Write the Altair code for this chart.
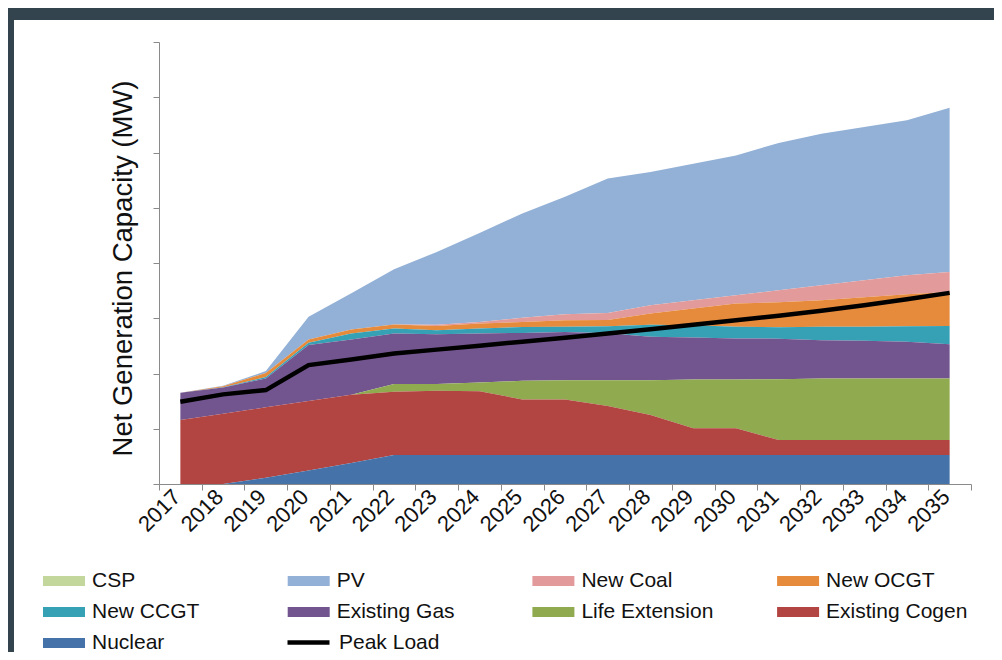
import altair as alt
import pandas as pd

# ---------------- data ----------------
years = [str(y) for y in range(2017, 2036)]

nuclear        = [0, 0, 114, 244, 380, 524, 524, 524, 524, 524, 524, 524, 524, 524, 524, 524, 524, 524, 524]
existing_cogen = [1157, 1271, 1273, 1257, 1235, 1145, 1163, 1157, 1007, 1007, 886, 723, 483, 483, 271, 271, 271, 271, 271]
life_extension = [0, 0, 0, 0, 0, 139, 121, 157, 336, 349, 470, 633, 886, 886, 1103, 1116, 1116, 1116, 1116]
existing_gas   = [494, 477, 524, 1013, 1002, 917, 904, 886, 868, 873, 850, 787, 759, 741, 732, 693, 680, 662, 620]
new_ccgt       = [0, 5, 24, 42, 108, 90, 72, 90, 108, 95, 125, 217, 222, 213, 208, 240, 257, 284, 331]
new_ocgt       = [0, 18, 72, 61, 72, 72, 78, 90, 90, 115, 115, 203, 302, 419, 452, 483, 533, 579, 615]
new_coal       = [0, 0, 0, 0, 0, 0, 22, 29, 76, 108, 127, 150, 150, 150, 217, 271, 307, 344, 362]
pv             = [0, 9, 36, 409, 656, 1000, 1316, 1609, 1889, 2130, 2432, 2410, 2472, 2531, 2667, 2743, 2772, 2803, 2973]
csp            = [0] * 19
peak_load      = [1488, 1622, 1700, 2152, 2255, 2363, 2432, 2504, 2576, 2649, 2725, 2802, 2884, 2965, 3046, 3137, 3236, 3345, 3459]

series_names = ["CSP", "PV", "New Coal", "New OCGT", "New CCGT",
                "Existing Gas", "Life Extension", "Existing Cogen", "Nuclear"]
series_values = [csp, pv, new_coal, new_ocgt, new_ccgt,
                 existing_gas, life_extension, existing_cogen, nuclear]
series_colors = ["#c3d69b", "#93b1d6", "#e39a9b", "#e68a3c", "#36a0b5",
                 "#72558f", "#8faa4f", "#b24441", "#4472a9"]
y_ticks = list(range(0, 8001, 1000))

# ---------------- tables ----------------
rows = []
n = len(series_names)
for i, (name, vals) in enumerate(zip(series_names, series_values)):
    for yr, v in zip(years, vals):
        rows.append({"year": yr, "source": name, "mw": v, "rank": n - 1 - i})
df = pd.DataFrame(rows)
line_df = pd.DataFrame({"year": years, "mw": peak_load, "series": "Peak Load"})

FONT = "Liberation Sans"
GREY = "#8a8a8a"
DARK = "#33444f"

PAD = {"left": 151, "top": 34, "right": 23, "bottom": 168}
W, H = 812, 442
CANVAS_W = PAD["left"] + W + PAD["right"]
CANVAS_H = PAD["top"] + H + PAD["bottom"]

x_enc = alt.X(
    "year:O",
    bandPosition=0.5,
    sort=years,
    scale=alt.Scale(type="band", paddingInner=0, paddingOuter=0),
    axis=alt.Axis(title=None, labelAngle=-45, labelBaseline="middle", labelAlign="right",
                  labelFontSize=22, labelColor="#111111", labelOffset=-4,
                  tickBand="extent", tickSize=6, tickColor=GREY, domainColor=GREY,
                  labelPadding=3, zindex=1, grid=False),
)


def y_axis():
    return alt.Axis(title="Net Generation Capacity (MW)", values=y_ticks, labels=False,
                    tickSize=6, tickColor=GREY, domainColor=GREY, grid=False, zindex=1,
                    titleFontSize=27.5, titleFontWeight="normal", titleColor="#111111",
                    titlePadding=15, titleY=226)


y_scale = alt.Scale(domain=[0, 8000], nice=False, zero=True)

# dark frame strips at the top and left of the slide (kept inside the canvas)
frame = alt.Chart(pd.DataFrame({"p": [0]}))
top_strip = frame.mark_rect(color=DARK).encode(
    x=alt.value(-PAD["left"]), x2=alt.value(CANVAS_W - PAD["left"]),
    y=alt.value(-PAD["top"]), y2=alt.value(-22))
left_strip = frame.mark_rect(color=DARK).encode(
    x=alt.value(-PAD["left"]), x2=alt.value(-145),
    y=alt.value(-PAD["top"]), y2=alt.value(CANVAS_H - PAD["top"]))

areas = alt.Chart(df).mark_area(opacity=1, strokeWidth=0).encode(
    x=x_enc,
    y=alt.Y("mw:Q", stack="zero", scale=y_scale, axis=y_axis()),
    color=alt.Color(
        "source:N",
        scale=alt.Scale(domain=series_names, range=series_colors),
        legend=alt.Legend(title=None, orient="none", direction="horizontal",
                          legendX=-116, legendY=518,
                          columns=4, gridAlign="all", columnPadding=53.7, rowPadding=-1,
                          symbolType="M-1,-0.24H1V0.24H-1Z", symbolSize=1764,
                          symbolStrokeWidth=0, symbolOpacity=1,
                          labelFontSize=21, labelColor="#111111", labelOffset=7,
                          labelLimit=300, padding=0),
    ),
    order=alt.Order("rank:Q", sort="ascending"),
)

line = alt.Chart(line_df).mark_line(strokeWidth=4.5).encode(
    x=x_enc,
    y=alt.Y("mw:Q", scale=y_scale, axis=y_axis()),
    stroke=alt.Stroke(
        "series:N",
        scale=alt.Scale(domain=["Peak Load"], range=["#000000"]),
        legend=alt.Legend(title=None, orient="none", direction="horizontal",
                          legendX=126, legendY=577,
                          symbolType="stroke", symbolSize=1764, symbolStrokeWidth=4.5,
                          labelFontSize=21, labelColor="#111111", labelOffset=7,
                          labelLimit=300, padding=0),
    ),
)

chart = (
    alt.layer(top_strip, left_strip, areas, line)
    .properties(width=W, height=H,
                autosize=alt.AutoSizeParams(type="none"),
                padding=PAD)
    .configure(background="white", font=FONT)
    .configure_view(stroke=None)
)

chart.save("out.html", embed_options={"renderer": "svg", "actions": False})
